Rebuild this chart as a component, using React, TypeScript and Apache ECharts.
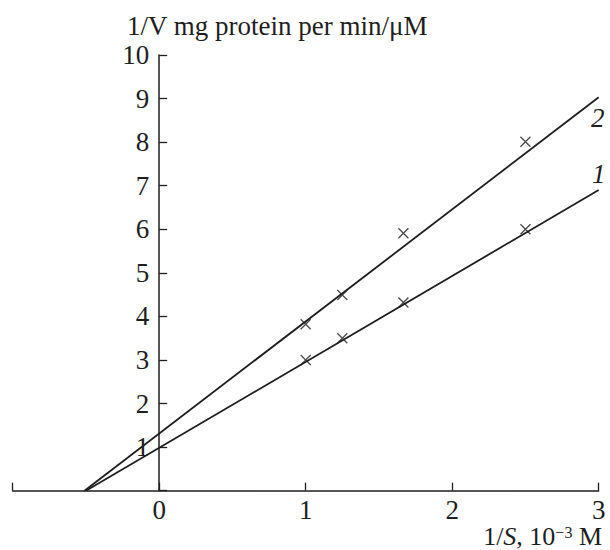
import React, { useEffect, useRef } from "react";
import * as echarts from "echarts";

// Axis ranges and ticks
const xRange = [-1, 3];
const yRange = [0, 10];
const tickStep = 1;

// Measured data points (1/S, 10^-3 M)
const sInverse = [1, 1.25, 1.667, 2.5];
const curve1Values = [3.0, 3.5, 4.32, 6.0];
const curve2Values = [3.82, 4.49, 5.91, 8.01];

// Fitted lines (end points)
const fit1X = [-0.5, 3];
const fit1Y = [0, 6.9];
const fit2X = [-0.51, 3];
const fit2Y = [0, 9.03];
const lineLabels = ["1", "2"];

const yTitle = "1/V mg protein per min/\u03bcM";

const FONT = "'Liberation Serif', 'Times New Roman', serif";
const INK = "#1e1e1e";
const FS = 27;

const GRID = { left: 12.7, right: 11.3, top: 55, bottom: 59.3 };
const WIDTH = 610;
const HEIGHT = 550;

export default function App() {
  const ref = useRef<HTMLDivElement>(null);

  useEffect(() => {
    if (!ref.current) return;
    const chart = echarts.init(ref.current, undefined, { renderer: "svg" });

    const cross = "path://M0,0L10,10M10,0L0,10";
    const markerStyle = { color: "transparent", borderColor: INK, borderWidth: 1.3 };

    // shift the y axis (with its labels) to x = 0 of the x scale
    const gridWidth = WIDTH - GRID.left - GRID.right;
    const yAxisOffset = -((0 - xRange[0]) / (xRange[1] - xRange[0])) * gridWidth;

    chart.setOption({
      animation: false,
      backgroundColor: "#ffffff",
      textStyle: { fontFamily: FONT },
      grid: { ...GRID, containLabel: false, outerBoundsMode: "none" },
      xAxis: {
        type: "value",
        min: xRange[0],
        max: xRange[1],
        interval: tickStep,
        axisLine: { show: true, onZero: true, lineStyle: { color: INK, width: 1.5 } },
        axisTick: { show: true, inside: true, length: 8, lineStyle: { color: INK, width: 1.3 } },
        axisLabel: {
          color: INK,
          fontSize: FS,
          fontFamily: FONT,
          margin: 6,
          formatter: (v: number) => (v < 0 ? "" : String(v)),
        },
        splitLine: { show: false },
      },
      yAxis: {
        type: "value",
        min: yRange[0],
        max: yRange[1],
        interval: tickStep,
        offset: yAxisOffset,
        axisLine: { show: true, onZero: false, lineStyle: { color: INK, width: 1.5 } },
        axisTick: { show: true, inside: true, length: 8, lineStyle: { color: INK, width: 1.3 } },
        axisLabel: {
          color: INK,
          fontSize: FS,
          fontFamily: FONT,
          margin: 10,
          formatter: (v: number) => (v === 0 ? "" : String(v)),
        },
        splitLine: { show: false },
      },
      series: [
        {
          type: "line",
          name: "fit1",
          data: fit1X.map((x, i) => [x, fit1Y[i]]),
          symbol: "none",
          lineStyle: { color: INK, width: 1.8 },
        },
        {
          type: "line",
          name: "fit2",
          data: fit2X.map((x, i) => [x, fit2Y[i]]),
          symbol: "none",
          lineStyle: { color: INK, width: 1.8 },
        },
        {
          type: "scatter",
          name: "1",
          data: sInverse.map((x, i) => [x, curve1Values[i]]),
          symbol: cross,
          symbolSize: 10,
          itemStyle: markerStyle,
        },
        {
          type: "scatter",
          name: "2",
          data: sInverse.map((x, i) => [x, curve2Values[i]]),
          symbol: cross,
          symbolSize: 10,
          itemStyle: markerStyle,
        },
      ],
    });

    const end1 = chart.convertToPixel({ gridIndex: 0 }, [fit1X[1], fit1Y[1]]) as number[];
    const end2 = chart.convertToPixel({ gridIndex: 0 }, [fit2X[1], fit2Y[1]]) as number[];

    chart.setOption({
      graphic: [
        {
          type: "text",
          x: 127,
          y: 26,
          style: {
            text: yTitle,
            fontFamily: FONT,
            fontSize: FS,
            fill: INK,
            align: "left",
            verticalAlign: "middle",
          },
        },
        {
          type: "text",
          x: 602,
          y: 536,
          style: {
            text: "1/{i|S}, 10{sup|\u22123} M",
            fontFamily: FONT,
            fontSize: 26,
            lineHeight: 24,
            fill: INK,
            align: "right",
            verticalAlign: "middle",
            rich: {
              i: { fontFamily: FONT, fontSize: 26, lineHeight: 24, fontStyle: "italic", fill: INK },
              sup: {
                fontFamily: FONT,
                fontSize: 16,
                fill: INK,
                verticalAlign: "top",
                lineHeight: 14,
                padding: [0, 0, 10, 0],
              },
            },
          },
        },
        {
          type: "text",
          x: Math.min(end1[0], WIDTH - 10),
          y: end1[1] - 16,
          style: {
            text: lineLabels[0],
            fontFamily: FONT,
            fontSize: FS,
            fontStyle: "italic",
            fill: INK,
            align: "center",
            verticalAlign: "middle",
          },
        },
        {
          type: "text",
          x: Math.min(end2[0] - 1, WIDTH - 10),
          y: end2[1] + 21,
          style: {
            text: lineLabels[1],
            fontFamily: FONT,
            fontSize: FS,
            fontStyle: "italic",
            fill: INK,
            align: "center",
            verticalAlign: "middle",
          },
        },
      ],
    });

    return () => chart.dispose();
  }, []);

  return (
    <div
      ref={ref}
      style={{ position: "absolute", left: 0, top: 0, width: WIDTH, height: HEIGHT, background: "#fff" }}
    />
  );
}
